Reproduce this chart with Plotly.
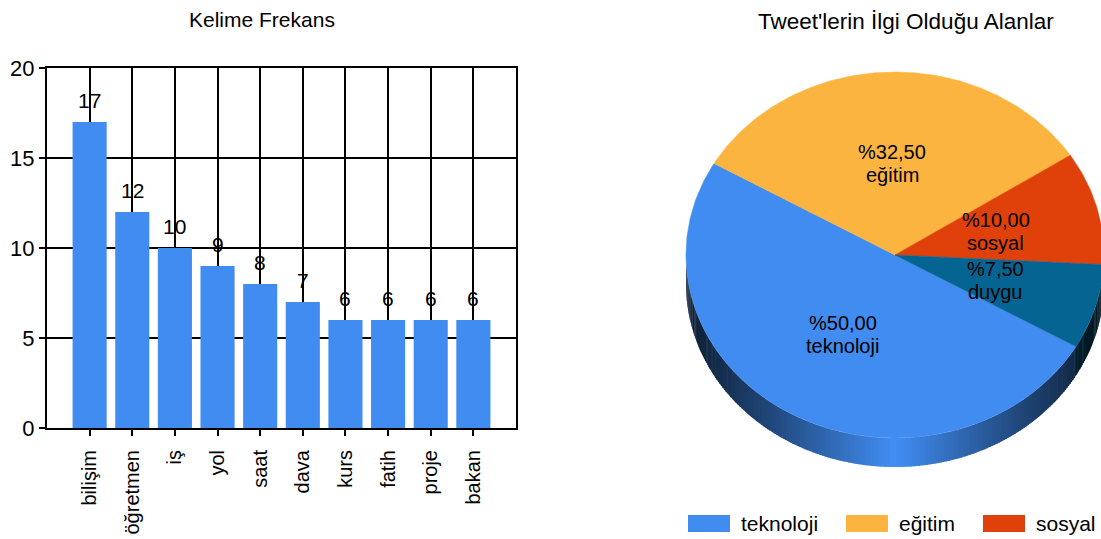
import numpy as np
import plotly.graph_objects as go

# ---------------- data ----------------
words = ["bilişim", "öğretmen", "iş", "yol", "saat", "dava", "kurs", "fatih", "proje", "bakan"]
counts = [17, 12, 10, 9, 8, 7, 6, 6, 6, 6]

pie_labels = ["teknoloji", "eğitim", "sosyal", "duygu"]
pie_counts = [20, 13, 4, 3]
pie_colors = ["#418CF0", "#FCB441", "#E0400A", "#056492"]

bar_title = "Kelime Frekans"
pie_title = "Tweet'lerin İlgi Olduğu Alanlar"

# ---------------- layout constants ----------------
W, H = 1101, 539
FONT = "Liberation Sans, Arial, sans-serif"
CX, CY, RX, RY, DEPTH = 895, 255, 209, 183, 29
START = -30.0  # degrees, slices go clockwise

fig = go.Figure()

# ---------------- bar chart ----------------
fig.add_trace(go.Bar(x=words, y=counts, marker=dict(color="#418CF0", line=dict(width=0)),
                     width=0.8, xaxis="x", yaxis="y", showlegend=False, hoverinfo="x+y"))

annotations = []
for w_, c_ in zip(words, counts):
    annotations.append(dict(x=w_, y=c_, xref="x", yref="y", text=str(c_), showarrow=False,
                            yanchor="bottom", yshift=8, font=dict(family=FONT, size=21, color="black")))

# ---------------- pie chart (elliptical, with depth) ----------------
def hex_to_rgb(h):
    h = h.lstrip("#")
    return tuple(int(h[i:i + 2], 16) for i in (0, 2, 4))

def ell(theta_deg, dy=0.0):
    t = np.radians(theta_deg)
    return CX + RX * np.cos(t), CY - RY * np.sin(t) + dy

total = float(sum(pie_counts))
fracs = [v / total for v in pie_counts]
bounds = []
a = START
for f in fracs:
    b = a - 360.0 * f
    bounds.append((a, b))
    a = b

# side (visible lower half), shaded strips
for (a, b), col in zip(bounds, pie_colors):
    lo, hi = b, a
    for k in (-1, 0, 1):
        vlo, vhi = max(lo, -180 + 360 * k), min(hi, 360 * k)
        if vhi <= vlo:
            continue
        n = max(1, int(np.ceil((vhi - vlo) / 0.75)))
        edges = np.linspace(vlo, vhi, n + 1)
        base = np.array(hex_to_rgb(col), dtype=float)
        for e0, e1 in zip(edges[:-1], edges[1:]):
            mid = np.radians((e0 + e1) / 2)
            fac = 0.22 + 0.8 * (1 - abs(np.cos(mid))) ** 1.1
            rgb = np.clip(base * fac, 0, 255).astype(int)
            c = f"rgb({rgb[0]},{rgb[1]},{rgb[2]})"
            ts = np.array([e0 - 0.15, e1 + 0.15])
            xt, yt = ell(ts)
            xb, yb = ell(ts[::-1], DEPTH)
            fig.add_trace(go.Scatter(x=np.concatenate([xt, xb]), y=np.concatenate([yt, yb]),
                                     fill="toself", fillcolor=c, mode="lines",
                                     line=dict(width=0), xaxis="x2", yaxis="y2",
                                     showlegend=False, hoverinfo="skip"))

# top face slices
for (a, b), col, lab, f in zip(bounds, pie_colors, pie_labels, fracs):
    ts = np.linspace(a, b, max(4, int(abs(a - b)) + 2))
    xs, ys = ell(ts)
    fig.add_trace(go.Scatter(x=np.concatenate([[CX], xs, [CX]]), y=np.concatenate([[CY], ys, [CY]]),
                             fill="toself", fillcolor=col, mode="lines",
                             line=dict(color=col, width=0.5), xaxis="x2", yaxis="y2",
                             name=lab, showlegend=False, hoverinfo="name"))
    mid = (a + b) / 2
    lx, ly = CX + 0.5 * RX * np.cos(np.radians(mid)), CY - 0.5 * RY * np.sin(np.radians(mid))
    pct = f"%{f * 100:.2f}".replace(".", ",")
    for txt, off in ((pct, -11.5), (lab, 11.5)):
        annotations.append(dict(x=lx, y=ly + off, xref="x2", yref="y2", text=txt,
                                showarrow=False, xanchor="center", yanchor="middle",
                                font=dict(family=FONT, size=20, color="black")))

# titles
annotations.append(dict(x=262, y=19, xref="x2", yref="y2", text=bar_title, showarrow=False,
                        yanchor="middle", font=dict(family=FONT, size=21, color="black")))
annotations.append(dict(x=906, y=21, xref="x2", yref="y2", text=pie_title, showarrow=False,
                        yanchor="middle", font=dict(family=FONT, size=22.5, color="black")))

# legend (manual)
shapes = []
legend_x = [688, 846, 983]
for lx, lab, col in zip(legend_x, pie_labels, pie_colors):
    shapes.append(dict(type="rect", xref="x2", yref="y2", x0=lx, x1=lx + 42, y0=515, y1=532,
                       fillcolor=col, line=dict(width=0)))
    annotations.append(dict(x=lx + 51, y=523, xref="x2", yref="y2", text=lab, showarrow=False,
                            xanchor="left", yanchor="middle",
                            font=dict(family=FONT, size=21, color="black")))

fig.update_layout(
    width=W, height=H, margin=dict(l=0, r=0, t=0, b=0, autoexpand=False),
    paper_bgcolor="white", plot_bgcolor="rgba(0,0,0,0)",
    showlegend=False, bargap=0.2,
    font=dict(family=FONT, color="black"),
    xaxis=dict(domain=[47 / W, 516 / W], anchor="y", type="category", range=[-1, 10],
               showgrid=True, gridcolor="black", gridwidth=2,
               showline=True, linecolor="black", linewidth=2, mirror=True,
               ticks="outside", ticklen=6, tickwidth=2, tickcolor="black",
               tickangle=-90, tickfont=dict(family=FONT, size=20, color="black"),
               ticklabelstandoff=6, fixedrange=True),
    yaxis=dict(domain=[(H - 428) / H, (H - 68) / H], anchor="x", range=[0, 20], dtick=5,
               showgrid=True, gridcolor="black", gridwidth=2, zeroline=False,
               showline=True, linecolor="black", linewidth=2, mirror=True,
               ticks="outside", ticklen=6, tickwidth=2, tickcolor="black",
               tickfont=dict(family=FONT, size=22, color="black"), fixedrange=True),
    xaxis2=dict(domain=[0, 1], anchor="y2", range=[0, W], visible=False, fixedrange=True),
    yaxis2=dict(domain=[0, 1], anchor="x2", range=[H, 0], visible=False, fixedrange=True),
    annotations=annotations, shapes=shapes,
)

fig.write_html("out.html")
